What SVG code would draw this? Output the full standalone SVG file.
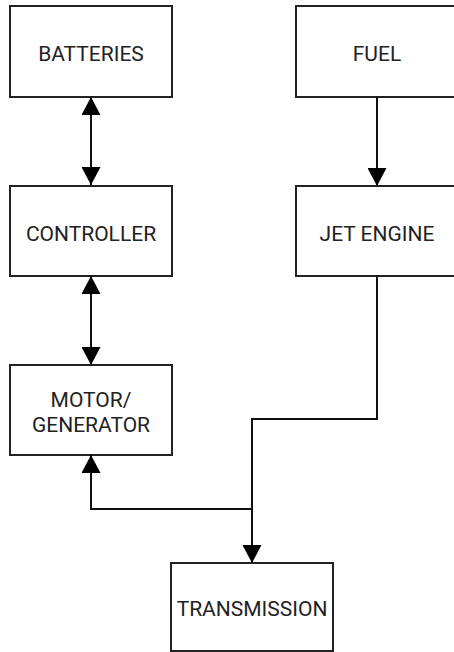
<svg xmlns="http://www.w3.org/2000/svg" width="454" height="652" viewBox="0 0 454 652">
<style>
.box{fill:#fff;stroke:#222;stroke-width:2}
.lbl{font-family:Roboto,"Liberation Sans",sans-serif;font-size:21px;fill:#222;text-anchor:middle}
.con{fill:none;stroke:#111;stroke-width:2}
</style>
<defs>
<marker id="ah" viewBox="0 0 18 19" refX="18" refY="9.5" markerWidth="18" markerHeight="19" markerUnits="userSpaceOnUse" orient="auto-start-reverse">
<path d="M0,0 L18,9.5 L0,19 Z" fill="#000"/>
</marker>
</defs>
<rect width="454" height="652" fill="#fff"/>
<g id="batteries"><rect class="box" x="10" y="6" width="162" height="91"/><text class="lbl" x="91" y="61">BATTERIES</text></g>
<g id="fuel"><rect class="box" x="296" y="6" width="162" height="91"/><text class="lbl" x="377" y="61">FUEL</text></g>
<g id="controller"><rect class="box" x="10" y="186" width="162" height="90"/><text class="lbl" x="91" y="241">CONTROLLER</text></g>
<g id="jet-engine"><rect class="box" x="296" y="186" width="162" height="90"/><text class="lbl" x="377" y="241">JET ENGINE</text></g>
<g id="motor-generator"><rect class="box" x="10" y="365" width="162" height="90"/><text class="lbl" x="91" y="407">MOTOR/</text><text class="lbl" x="91" y="432">GENERATOR</text></g>
<g id="transmission"><rect class="box" x="171" y="563" width="162" height="88"/><text class="lbl" x="252" y="616">TRANSMISSION</text></g>
<g id="connectors">
<path class="con" d="M91,97 V185" marker-start="url(#ah)" marker-end="url(#ah)"/>
<path class="con" d="M91,276 V365" marker-start="url(#ah)" marker-end="url(#ah)"/>
<path class="con" d="M377,97 V186" marker-end="url(#ah)"/>
<path class="con" d="M377,276 V419 H252 V563" marker-end="url(#ah)"/>
<path class="con" d="M252,509 H91 V455" marker-end="url(#ah)"/>
</g>
</svg>
